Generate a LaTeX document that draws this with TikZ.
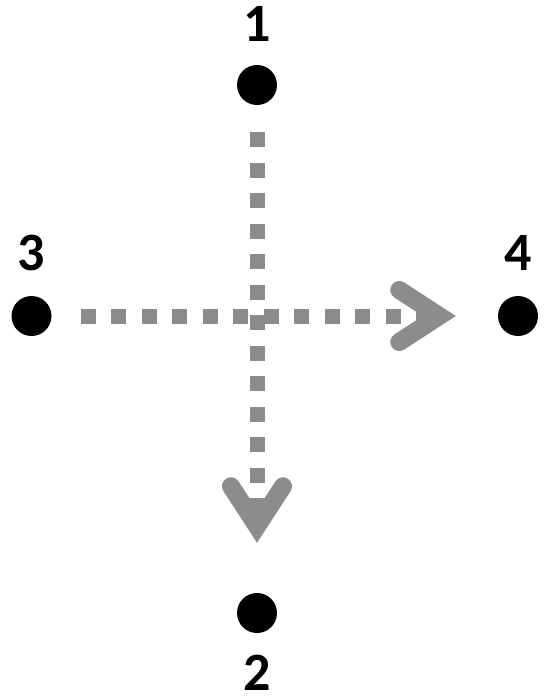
\documentclass[tikz,border=0pt]{standalone}
\usepackage{fontspec}
\setsansfont{Carlito}
\usetikzlibrary{positioning,arrows.meta}
\definecolor{flowgray}{RGB}{140,140,140}

\begin{document}
\begin{tikzpicture}[
    x=1pt, y=-1pt,
    dot/.style={circle, fill=black, minimum size=40pt, inner sep=0pt},
    num/.style={inner sep=0pt, font=\sffamily\bfseries\fontsize{54}{54}\selectfont},
    flow/.style={draw=flowgray, line width=15pt, dash pattern=on 15pt off 15.5pt,
        -{Straight Barb[length=40pt, width=52pt, line width=18pt, line cap=round, line join=miter]}}
]
\useasboundingbox (0,0) rectangle (550,696);
% Dots
\node[dot] (p1) at (257,85) {};
\node[dot] (p2) at (257,613) {};
\node[dot] (p3) at (31.5,316) {};
\node[dot] (p4) at (518,316) {};

% Labels
\node[num, above=23pt of p1] (n1) {1};
\node[num, below=22pt of p2] (n2) {2};
\node[num, above=25pt of p3] (n3) {3};
\node[num, above=25pt of p4] (n4) {4};

% Arrows
\draw[flow, shorten <=27pt, shorten >=50pt] (p1) -- (p2);
\draw[flow, shorten <=29pt, shorten >=42pt] (p3) -- (p4);
\end{tikzpicture}
\end{document}
